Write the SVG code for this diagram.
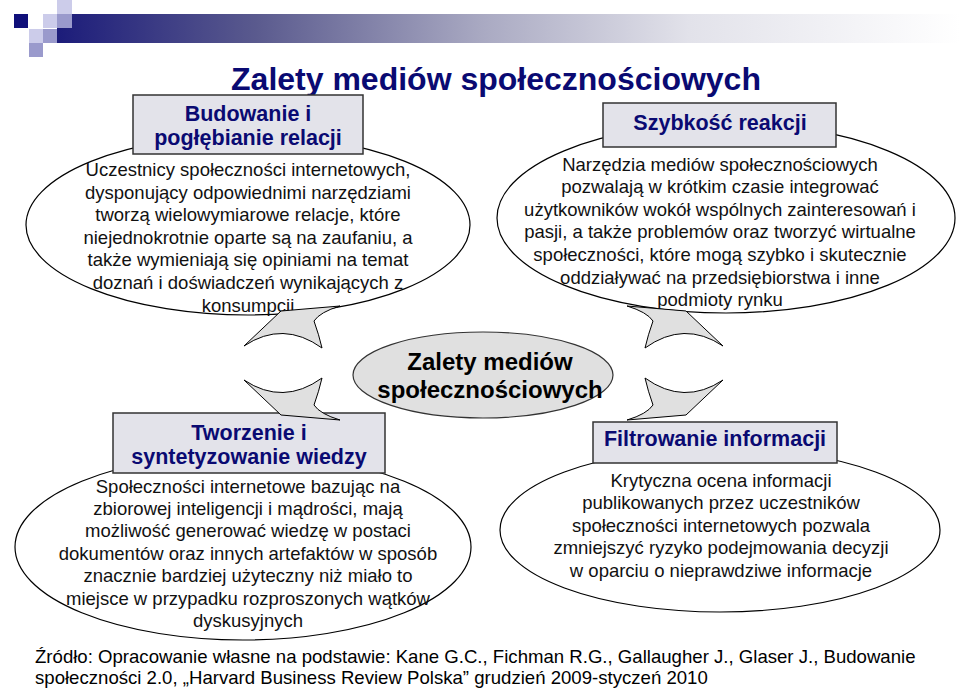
<svg xmlns="http://www.w3.org/2000/svg" width="960" height="689" viewBox="0 0 960 689">
<defs>
<linearGradient id="bar" x1="0" y1="0" x2="1" y2="0">
<stop offset="0" stop-color="#1c1c7a"/>
<stop offset="0.22" stop-color="#5a5a8e"/>
<stop offset="0.47" stop-color="#a9a9c2"/>
<stop offset="0.7" stop-color="#e2e2ea"/>
<stop offset="1" stop-color="#ffffff"/>
</linearGradient>
<path id="arr" d="M244,346 L281,311 L340,306 Q320,312 314,321 Q319,335 322,348 Q283,320 244,346 Z"/>
</defs>
<style>
.ell{fill:#ffffff;stroke:#000;stroke-width:1.2}
.box{fill:#e3e3ea;stroke:#333;stroke-width:1.5}
.lbl{font-family:"Liberation Sans",Arial,sans-serif;font-weight:bold;font-size:21.5px;fill:#0a0a72;text-anchor:middle}
.body{font-family:"Liberation Sans",Arial,sans-serif;font-size:18.5px;fill:#111;text-anchor:middle}
.arrow{fill:#e0e0e0;stroke:#000;stroke-width:1}
.src{font-family:"Liberation Sans",Arial,sans-serif;font-size:18.6px;fill:#000}
</style>
<rect width="960" height="689" fill="#fff"/>
<g id="header">
<rect x="57" y="14" width="903" height="29" fill="url(#bar)"/>
<rect x="14" y="14" width="14" height="14" fill="#10107a"/>
<rect x="43" y="14" width="14" height="14" fill="#ccccea"/>
<rect x="57" y="14" width="15" height="14" fill="#9a9acc"/>
<rect x="57" y="0" width="15" height="14" fill="#ccccea"/>
<rect x="29" y="29" width="14" height="14" fill="#ccccea"/>
<rect x="43" y="29" width="14" height="14" fill="#9a9acc"/>
<rect x="29" y="43" width="14" height="14" fill="#9a9acc"/>
<text x="496" y="90" font-family="Liberation Sans, Arial, sans-serif" font-weight="bold" font-size="32" fill="#0a0a72" text-anchor="middle">Zalety mediów społecznościowych</text>
</g>
<g id="node-relacje">
<ellipse class="ell" cx="248" cy="225" rx="222" ry="90"/>
<rect class="box" x="133" y="95" width="230" height="59"/>
<text class="lbl" x="248" y="121">Budowanie i</text>
<text class="lbl" x="248" y="145">pogłębianie relacji</text>
<text class="body" x="248" y="176">Uczestnicy społeczności internetowych,</text>
<text class="body" x="248" y="199">dysponujący odpowiednimi narzędziami</text>
<text class="body" x="248" y="221">tworzą wielowymiarowe relacje, które</text>
<text class="body" x="248" y="244">niejednokrotnie oparte są na zaufaniu, a</text>
<text class="body" x="248" y="266">także wymieniają się opiniami na temat</text>
<text class="body" x="248" y="289">doznań i doświadczeń wynikających z</text>
<text class="body" x="248" y="312">konsumpcji</text>
</g>
<g id="node-szybkosc">
<ellipse class="ell" cx="726" cy="218" rx="229" ry="95"/>
<rect class="box" x="603" y="103" width="233" height="44"/>
<text class="lbl" x="720" y="130">Szybkość reakcji</text>
<text class="body" x="720" y="171">Narzędzia mediów społecznościowych</text>
<text class="body" x="720" y="193">pozwalają w krótkim czasie integrować</text>
<text class="body" x="720" y="216">użytkowników wokół wspólnych zainteresowań i</text>
<text class="body" x="720" y="238">pasji, a także problemów oraz tworzyć wirtualne</text>
<text class="body" x="720" y="261">społeczności, które mogą szybko i skutecznie</text>
<text class="body" x="720" y="284">oddziaływać na przedsiębiorstwa i inne</text>
<text class="body" x="720" y="306">podmioty rynku</text>
</g>
<g id="node-center">
<ellipse cx="483" cy="375" rx="130" ry="43" fill="#e0e0e0" stroke="#333" stroke-width="1.2"/>
<text x="490" y="370" font-family="Liberation Sans, Arial, sans-serif" font-weight="bold" font-size="24" fill="#000" text-anchor="middle">Zalety mediów</text>
<text x="490" y="398" font-family="Liberation Sans, Arial, sans-serif" font-weight="bold" font-size="24" fill="#000" text-anchor="middle">społecznościowych</text>
</g>
<g id="node-wiedza">
<ellipse class="ell" cx="243" cy="547" rx="228" ry="93"/>
<rect class="box" x="113" y="413" width="272" height="60"/>
<text class="lbl" x="249" y="440">Tworzenie i</text>
<text class="lbl" x="249" y="464">syntetyzowanie wiedzy</text>
<text class="body" x="248" y="493">Społeczności internetowe bazując na</text>
<text class="body" x="248" y="515">zbiorowej inteligencji i mądrości, mają</text>
<text class="body" x="248" y="537">możliwość generować wiedzę w postaci</text>
<text class="body" x="248" y="560">dokumentów oraz innych artefaktów w sposób</text>
<text class="body" x="248" y="582">znacznie bardziej użyteczny niż miało to</text>
<text class="body" x="248" y="605">miejsce w przypadku rozproszonych wątków</text>
<text class="body" x="248" y="627">dyskusyjnych</text>
</g>
<g id="node-filtrowanie">
<ellipse class="ell" cx="720" cy="530" rx="220" ry="82"/>
<rect class="box" x="593" y="422" width="244" height="41"/>
<text class="lbl" x="715" y="446">Filtrowanie informacji</text>
<text class="body" x="721" y="487">Krytyczna ocena informacji</text>
<text class="body" x="721" y="509">publikowanych przez uczestników</text>
<text class="body" x="721" y="532">społeczności internetowych pozwala</text>
<text class="body" x="721" y="554">zmniejszyć ryzyko podejmowania decyzji</text>
<text class="body" x="721" y="577">w oparciu o nieprawdziwe informacje</text>
</g>
<g id="connectors">
<use href="#arr" class="arrow"/>
<use href="#arr" class="arrow" transform="translate(0,726) scale(1,-1)"/>
<use href="#arr" class="arrow" transform="translate(967,0) scale(-1,1)"/>
<use href="#arr" class="arrow" transform="translate(967,726) scale(-1,-1)"/>
</g>
<g id="source">
<text class="src" x="35" y="663">Źródło: Opracowanie własne na podstawie: Kane G.C., Fichman R.G., Gallaugher J., Glaser J., Budowanie</text>
<text class="src" x="35" y="684">społeczności 2.0, „Harvard Business Review Polska” grudzień 2009-styczeń 2010</text>
</g>
</svg>
